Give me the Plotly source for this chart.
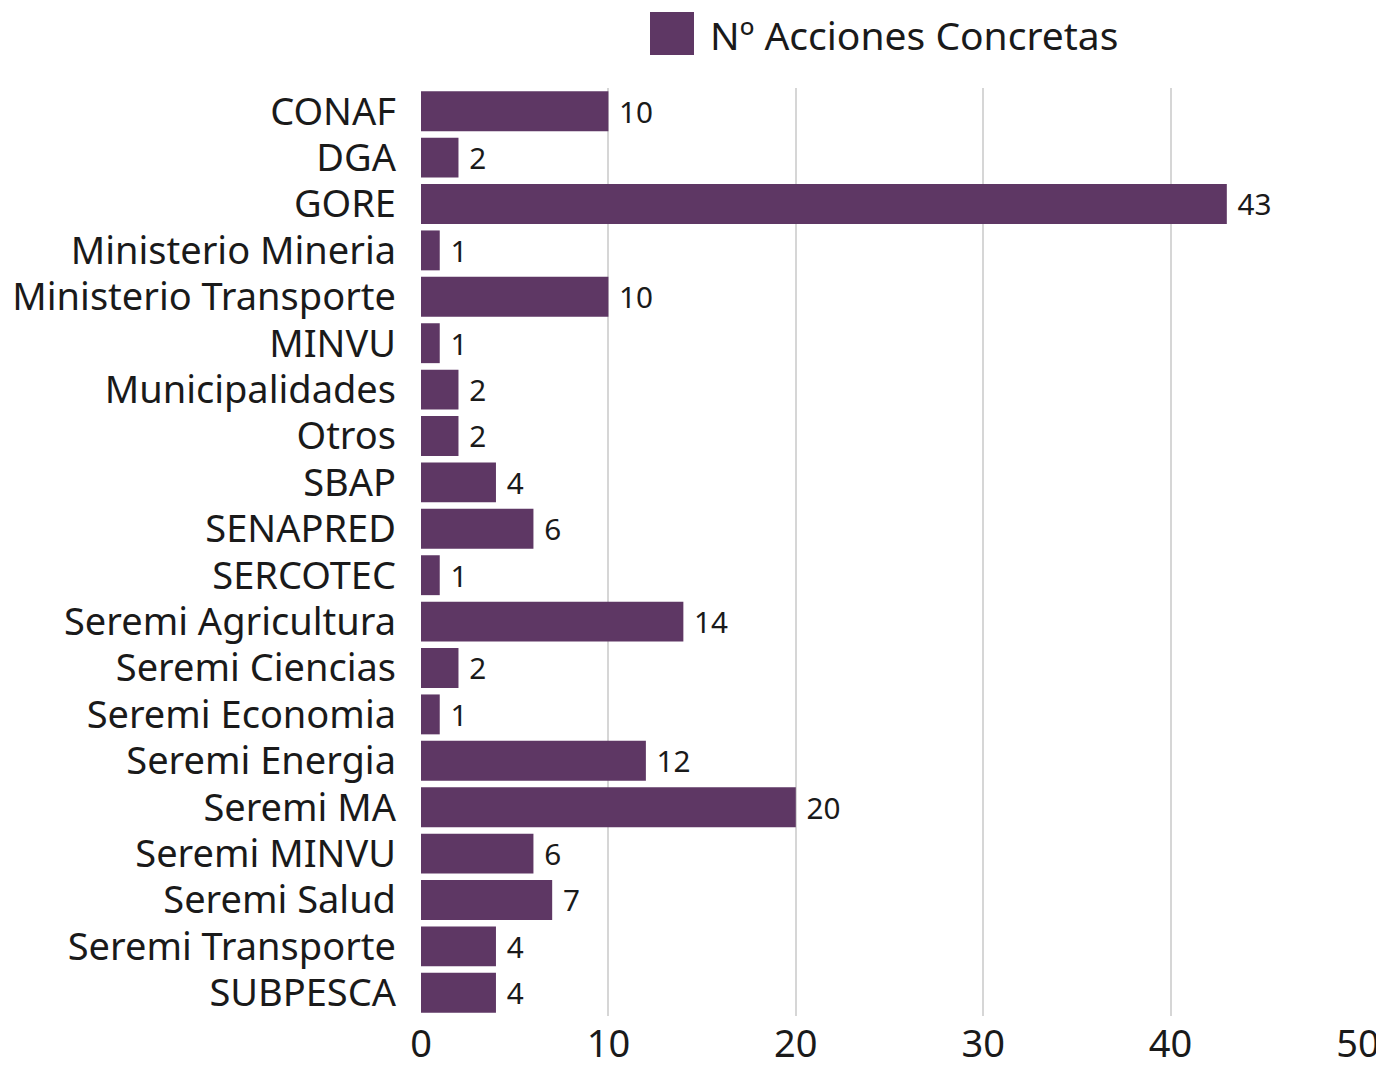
import plotly.graph_objects as go

instituciones = [
    "CONAF", "DGA", "GORE", "Ministerio Mineria", "Ministerio Transporte",
    "MINVU", "Municipalidades", "Otros", "SBAP", "SENAPRED", "SERCOTEC",
    "Seremi Agricultura", "Seremi Ciencias", "Seremi Economia",
    "Seremi Energia", "Seremi MA", "Seremi MINVU", "Seremi Salud",
    "Seremi Transporte", "SUBPESCA",
]
acciones = [10, 2, 43, 1, 10, 1, 2, 2, 4, 6, 1, 14, 2, 1, 12, 20, 6, 7, 4, 4]

serie = "Nº Acciones Concretas"
color = "#5e3764"
fuente = "Noto Sans"

# page body has an 8px margin, so the figure is drawn a bit smaller
W, H = 1376, 1059
L, R, T, B = 413, 26, 80, 51
pw, ph = W - L - R, H - T - B

fig = go.Figure()
fig.add_trace(go.Bar(
    x=acciones,
    y=instituciones,
    orientation="h",
    name=serie,
    marker=dict(color=color, line=dict(width=0)),
    texttemplate=" %{x}",
    textposition="outside",
    textfont=dict(size=35, color="#1a1a1a", family=fuente),
    cliponaxis=False,
    showlegend=False,
))

# legend drawn by hand so the swatch can be as large as in the original
fig.add_shape(type="rect", xref="paper", yref="paper",
              x0=(650 - 421) / pw, x1=(694 - 421) / pw,
              y0=1 + (88 - 55) / ph, y1=1 + (88 - 12) / ph,
              fillcolor=color, line=dict(width=0))
fig.add_annotation(text=serie, xref="paper", yref="paper",
                   x=(708 - 421) / pw, y=1 + (88 - 34) / ph,
                   xanchor="left", yanchor="middle", showarrow=False,
                   font=dict(size=39, color="#1a1a1a", family=fuente))

fig.update_layout(
    width=W,
    height=H,
    margin=dict(l=L, r=R, t=T, b=B),
    paper_bgcolor="white",
    plot_bgcolor="white",
    bargap=0.14,
    font=dict(family=fuente, size=38, color="#1a1a1a"),
)
fig.update_xaxes(
    range=[0, 50],
    tickvals=[0, 10, 20, 30, 40, 50],
    showgrid=True,
    gridcolor="#d6d6d6",
    gridwidth=1.5,
    zeroline=False,
    showline=False,
    ticks="",
    ticklabelstandoff=2,
    tickfont=dict(size=38),
    automargin=False,
)
fig.update_yaxes(
    autorange="reversed",
    showgrid=False,
    showline=False,
    ticks="",
    ticklabelstandoff=24,
    tickfont=dict(size=38),
    automargin=False,
)

fig.write_html("out.html")
